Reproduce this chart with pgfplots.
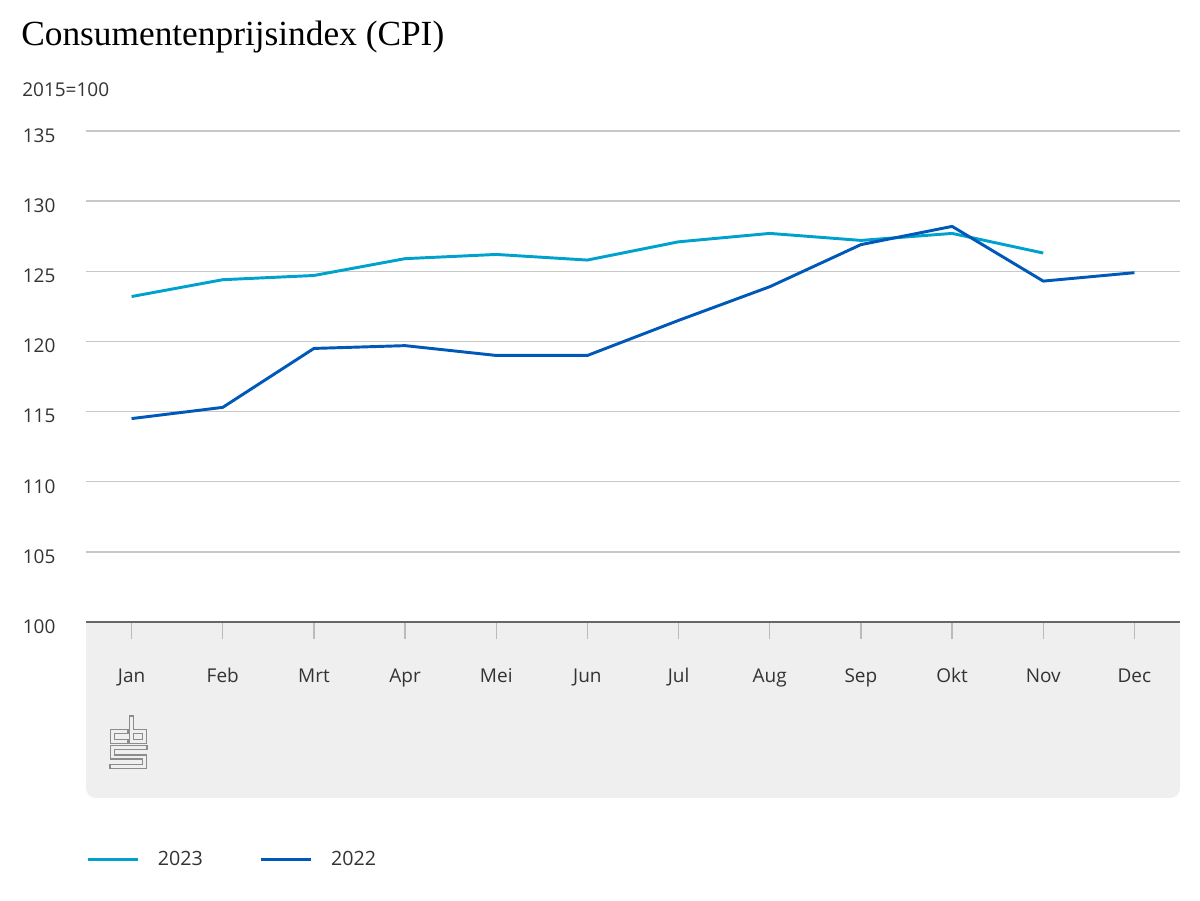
\documentclass[border=0pt]{standalone}
\usepackage{pgfplots}
\pgfplotsset{compat=1.18}
\usepackage{fontspec}
\setmainfont{Open Sans}
\newfontfamily\titlefont{Liberation Serif}
\definecolor{c2023}{HTML}{00A1CD}
\definecolor{c2022}{HTML}{0058B8}
\definecolor{gridc}{HTML}{C8C8C8}
\definecolor{axisc}{HTML}{666666}
\definecolor{panelbg}{HTML}{EFEFEF}
\definecolor{tickc}{HTML}{BBBBBB}
\definecolor{txt}{HTML}{333333}
\definecolor{logoc}{HTML}{8C8C8C}
\begin{document}
\begin{tikzpicture}
\begin{scope}[x=0.75pt, y=-0.75pt, shift={(0pt,675pt)}]
\path (0,0) rectangle (1200,900);
% panel
\fill[panelbg, rounded corners=7.5pt] (86,605) rectangle (1180,798);
\fill[white] (80,600) rectangle (1190,622);
% title
\node[anchor=base west, inner sep=0pt, font=\titlefont\fontsize{26.5}{30}\selectfont, text=black] at (21,46) {Consumentenprijsindex (CPI)};
\node[anchor=base west, inner sep=0pt, font=\fontsize{14.25}{17}\selectfont, text=txt] at (22,97) {2015=100};
% logo
\begin{scope}[line join=miter, line cap=rect]
\draw[logoc, line width=4pt] (126,731.5) -- (112.5,731.5) -- (112.5,741.5) -- (126,741.5);
\draw[logoc, line width=4pt] (131.5,718) -- (131.5,741.5) -- (144.5,741.5) -- (144.5,731.5) -- (131.5,731.5);
\draw[logoc, line width=4pt] (145,747.5) -- (112.5,747.5) -- (112.5,757) -- (144.5,757) -- (144.5,766.5) -- (112,766.5);
\draw[panelbg, line width=2.1pt] (126,731.5) -- (112.5,731.5) -- (112.5,741.5) -- (126,741.5);
\draw[panelbg, line width=2.1pt] (131.5,718) -- (131.5,741.5) -- (144.5,741.5) -- (144.5,731.5) -- (131.5,731.5);
\draw[panelbg, line width=2.1pt] (145,747.5) -- (112.5,747.5) -- (112.5,757) -- (144.5,757) -- (144.5,766.5) -- (112,766.5);
\end{scope}
\end{scope}
\begin{axis}[
  at={(64.5pt,208.5pt)}, anchor=south west,
  scale only axis, width=820.5pt, height=368.25pt,
  xmin=-0.5, xmax=11.5, ymin=100, ymax=135,
  xtick={0,...,11},
  xticklabels={Jan,Feb,Mrt,Apr,Mei,Jun,Jul,Aug,Sep,Okt,Nov,Dec},
  ytick={100,105,...,135},
  ymajorgrids, grid style={draw=gridc, line width=1pt},
  axis line style={draw=none},
  extra y ticks={100}, extra y tick labels={},
  extra y tick style={grid style={draw=axisc, line width=1.5pt}},
  xtick pos=left, tick align=outside,
  major tick length=12.75pt,
  xtick style={draw=tickc, line width=1.1pt},
  ytick style={draw=none},
  /pgf/number format/assume math mode=true,
  /pgf/number format/1000 sep={},
  ticklabel style={font=\fontsize{14.25}{17}\selectfont, text=txt},
  xticklabel style={anchor=base, yshift=-32.25pt},
  yticklabel style={anchor=base east, inner sep=0pt, xshift=-10pt, yshift=-8.5pt},
  clip=false,
  legend style={at={(0,-0.484)}, anchor=west, draw=none, fill=none, inner sep=0pt,
    font=\fontsize{14.75}{17}\selectfont, text=txt,
    /tikz/every odd column/.append style={column sep=12pt},
    /tikz/every even column/.append style={column sep=40.5pt}},
  legend columns=2, legend cell align=left,
  legend image code/.code={\draw[#1, line width=2.2pt] (0pt,0pt) -- (37.5pt,0pt);},
]
\addplot[c2023, line width=2.2pt, line join=round] coordinates {
(0,123.2) (1,124.4) (2,124.7) (3,125.9) (4,126.2) (5,125.8) (6,127.1) (7,127.7) (8,127.2) (9,127.7) (10,126.3)};
\addlegendentry{2023}
\addplot[c2022, line width=2.2pt, line join=round] coordinates {
(0,114.5) (1,115.3) (2,119.5) (3,119.7) (4,119.0) (5,119.0) (6,121.5) (7,123.9) (8,126.9) (9,128.2) (10,124.3) (11,124.9)};
\addlegendentry{2022}
\end{axis}
\end{tikzpicture}
\end{document}
